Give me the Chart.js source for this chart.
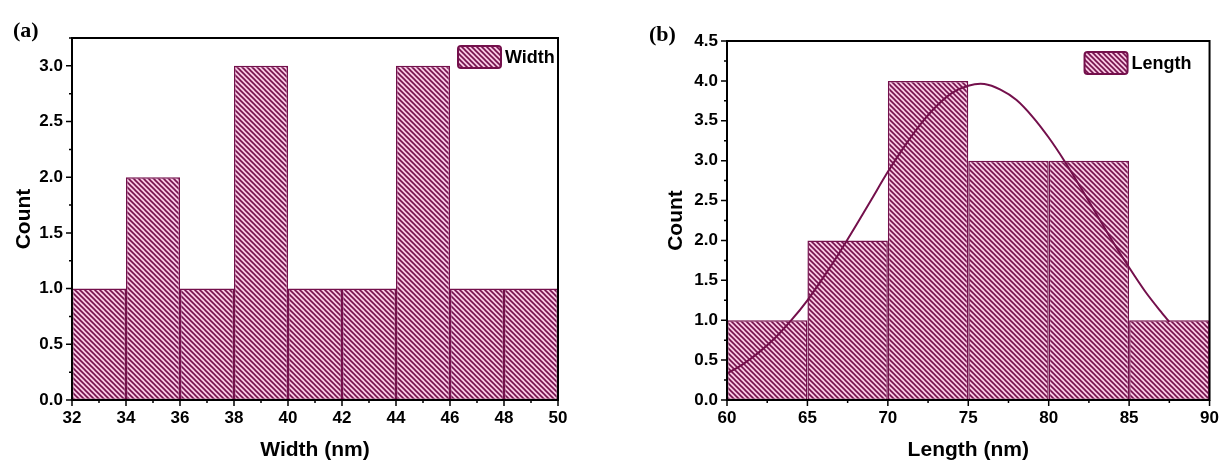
<!DOCTYPE html>
<html>
<head>
<meta charset="utf-8">
<script src="https://cdn.jsdelivr.net/npm/chart.js@4.4.0/dist/chart.umd.min.js"></script>
<style>
  body { margin: 0; background: #fff; width: 1227px; height: 464px; position: relative; overflow: hidden; }
  canvas { position: absolute; top: 0; }
  #widthChart { left: 0; }
  #lengthChart { left: 620px; }
  .panel { position: absolute; font: bold 22px 'Liberation Serif', serif; color: #000; z-index: 2; }
</style>
</head>
<body>
<canvas id="widthChart" width="600" height="464"></canvas>
<canvas id="lengthChart" width="607" height="464"></canvas>
<div class="panel" style="left:13px;top:17px">(a)</div>
<div class="panel" style="left:649px;top:21px">(b)</div>
<script>
(() => {
  'use strict'

  // histogram (a): bin edges in nm and counts
  const widthEdges = [32, 34, 36, 38, 40, 42, 44, 46, 48, 50]
  const widthCounts = [1, 2, 1, 3, 1, 1, 3, 1, 1]

  // histogram (b)
  const lengthEdges = [60, 65, 70, 75, 80, 85, 90]
  const lengthCounts = [1, 2, 4, 3, 3, 1]

  // fitted curve on (b)
  const fitX = [60, 61, 62, 63, 64, 65, 66, 67, 68, 69, 70, 71, 72, 73, 74, 75, 76, 77, 78, 79, 80, 81, 82, 83, 84, 85, 86, 87, 87.5]
  const fitY = [0.33, 0.45, 0.60, 0.78, 1.00, 1.25, 1.54, 1.85, 2.18, 2.52, 2.86, 3.17, 3.45, 3.68, 3.85, 3.94, 3.96, 3.89, 3.76, 3.55, 3.29, 2.99, 2.66, 2.32, 1.98, 1.66, 1.36, 1.10, 0.98]

  const maroon = '#74104c'
  const pink = '#f7c8e3'

  Chart.defaults.font.family = "'Liberation Sans', Arial, sans-serif"
  Chart.defaults.color = '#000'

  // diagonal hatch used for the bars and the legend swatch
  const hatch = (() => {
    const s = 5
    const c = document.createElement('canvas')
    c.width = s
    c.height = s
    const g = c.getContext('2d')
    g.fillStyle = pink
    g.fillRect(0, 0, s, s)
    g.strokeStyle = maroon
    g.lineWidth = 1.6
    for (const o of [-s, 0, s]) {
      g.beginPath()
      g.moveTo(o - 1, -1)
      g.lineTo(o + s + 1, s + 1)
      g.stroke()
    }
    return g.createPattern(c, 'repeat')
  })()

  const toBars = (edges, counts) =>
    counts.map((n, i) => ({ x: (edges[i] + edges[i + 1]) / 2, y: n }))

  // frame, major/minor ticks and the in-plot legend
  const axesBox = {
    id: 'axesBox',
    afterDatasetsDraw (chart, args, opts) {
      const { ctx, chartArea: a, scales: { x, y } } = chart
      ctx.save()
      ctx.strokeStyle = '#000'
      ctx.lineWidth = 2
      ctx.strokeRect(a.left, a.top, a.right - a.left, a.bottom - a.top)
      ctx.lineWidth = 1.5
      ctx.beginPath()
      x.ticks.forEach(t => {
        const px = x.getPixelForValue(t.value)
        ctx.moveTo(px, a.bottom)
        ctx.lineTo(px, a.bottom + (t.label ? 6 : 3))
      })
      y.ticks.forEach(t => {
        const py = y.getPixelForValue(t.value)
        ctx.moveTo(a.left, py)
        ctx.lineTo(a.left - (t.label ? 6 : 3), py)
      })
      ctx.stroke()

      const bx = a.right + opts.dx
      const by = a.top + opts.dy
      ctx.beginPath()
      ctx.roundRect(bx, by, 43, 22, 3)
      ctx.fillStyle = hatch
      ctx.fill()
      ctx.lineWidth = 2
      ctx.strokeStyle = maroon
      ctx.stroke()
      ctx.fillStyle = '#000'
      ctx.font = "bold 18px 'Liberation Sans', Arial, sans-serif"
      ctx.textBaseline = 'middle'
      ctx.fillText(opts.label, bx + 47, by + 12)
      ctx.restore()
    }
  }

  const tickFont = { size: 17, weight: 'bold' }
  const titleFont = { size: 21, weight: 'bold' }

  const makeChart = (id, c) => new Chart(document.getElementById(id), {
    type: 'bar',
    data: { datasets: c.datasets },
    options: {
      responsive: false,
      animation: false,
      layout: { padding: c.padding },
      plugins: {
        legend: { display: false },
        tooltip: { enabled: false },
        axesBox: c.legend
      },
      scales: {
        x: {
          type: 'linear',
          min: c.xMin,
          max: c.xMax,
          offset: false,
          grid: { display: false, drawTicks: false, offset: false },
          border: { display: false },
          ticks: {
            stepSize: c.xMinor,
            autoSkip: false,
            maxRotation: 0,
            padding: 8,
            font: tickFont,
            callback: v => (v % c.xMajor === 0 ? String(v) : '')
          },
          title: { display: true, text: c.xTitle, font: titleFont, padding: { top: 0, bottom: 1 } },
          afterFit: s => { s.height = 64 }
        },
        y: {
          min: 0,
          max: c.yMax,
          grid: { display: false, drawTicks: false },
          border: { display: false },
          ticks: {
            stepSize: 0.25,
            autoSkip: false,
            padding: 9,
            font: tickFont,
            callback: v => (Math.abs(v * 2 - Math.round(v * 2)) < 1e-6 ? v.toFixed(1) : '')
          },
          title: { display: true, text: 'Count', font: titleFont, padding: { top: c.yTitlePad, bottom: 0 } },
          afterFit: s => { s.width = c.yWidth }
        }
      }
    },
    plugins: [axesBox]
  })

  // bar width is measured against the minor tick spacing, which is half a bin
  const barStyle = {
    backgroundColor: hatch,
    borderColor: maroon,
    borderWidth: 1.5,
    borderSkipped: false,
    barPercentage: 2,
    categoryPercentage: 1,
    order: 1
  }

  makeChart('widthChart', {
    datasets: [{ label: 'Width', data: toBars(widthEdges, widthCounts), ...barStyle }],
    padding: { left: 0, right: 42, top: 38, bottom: 0 },
    legend: { label: 'Width', dx: -100, dy: 8 },
    xMin: 32, xMax: 50, xMinor: 1, xMajor: 2,
    xTitle: 'Width (nm)',
    yMax: 3.25,
    yWidth: 72,
    yTitlePad: 12
  })

  makeChart('lengthChart', {
    datasets: [
      { label: 'Length', data: toBars(lengthEdges, lengthCounts), ...barStyle },
      {
        type: 'line',
        label: 'Fit',
        data: fitX.map((x, i) => ({ x, y: fitY[i] })),
        borderColor: maroon,
        borderWidth: 2,
        pointRadius: 0,
        tension: 0.3,
        order: 0
      }
    ],
    padding: { left: 0, right: 17, top: 41, bottom: 0 },
    legend: { label: 'Length', dx: -125, dy: 11 },
    xMin: 60, xMax: 90, xMinor: 2.5, xMajor: 5,
    xTitle: 'Length (nm)',
    yMax: 4.5,
    yWidth: 107,
    yTitlePad: 44
  })
})()
</script>
</body>
</html>
